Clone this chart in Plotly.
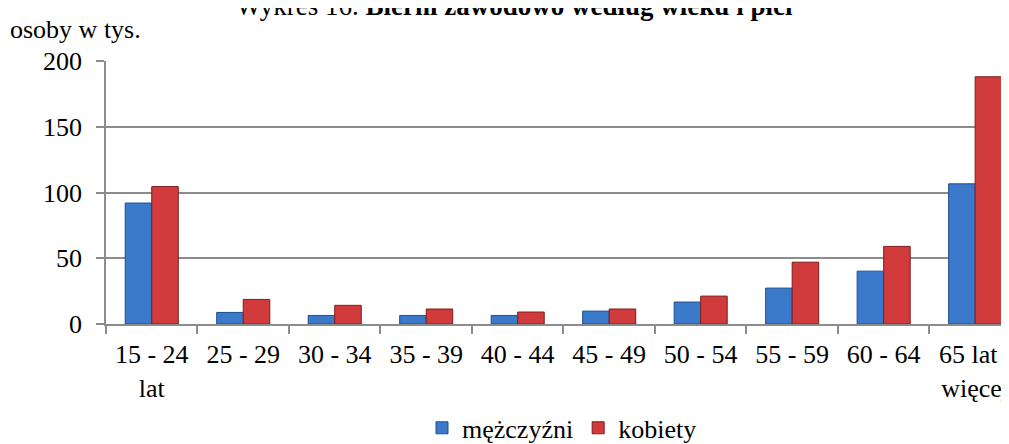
import plotly.graph_objects as go

categories = ["15 - 24<br>lat", "25 - 29", "30 - 34", "35 - 39", "40 - 44",
              "45 - 49", "50 - 54", "55 - 59", "60 - 64", "65 lat i<br>więcej"]
men = [92, 8.8, 6.5, 6.5, 6.5, 9.8, 16.7, 27.3, 40.2, 106.6]
women = [104.5, 18.7, 14.2, 11.4, 9.1, 11.4, 21.2, 47, 59, 188]
y_ticks = [0, 50, 100, 150, 200]

FONT = "Liberation Serif"
GRID = "#8c8c8c"

fig = go.Figure()
fig.add_trace(go.Bar(name="mężczyźni", x=categories, y=men,
                     marker=dict(color="#3b7acb", line=dict(color="#1d4f8f", width=1))))
fig.add_trace(go.Bar(name="kobiety", x=categories, y=women,
                     marker=dict(color="#d23b3b", line=dict(color="#7f1c1c", width=1))))

fig.update_layout(
    width=1001, height=436,
    margin=dict(l=98, r=0, t=53, b=120, pad=0, autoexpand=False),
    paper_bgcolor="white", plot_bgcolor="white",
    font=dict(family=FONT, size=26, color="black"),
    barmode="group", bargap=0.42, bargroupgap=0,
    showlegend=True,
    legend=dict(orientation="h", x=0.505, xanchor="center", y=-0.395, yanchor="middle",
                font=dict(size=26), itemwidth=30, traceorder="normal"),
    xaxis=dict(type="category", range=[-0.5, 9.37], tickson="boundaries",
               ticks="outside", ticklen=8, tickcolor=GRID, tickwidth=1.5,
               showline=True, linecolor=GRID, linewidth=1.5, showgrid=False,
               tickangle=0, ticklabelstandoff=6, automargin=False),
    yaxis=dict(range=[0, 200], tickvals=y_ticks, ticks="outside", ticklen=8,
               tickcolor=GRID, tickwidth=1.5, showline=True, linecolor=GRID,
               linewidth=1.5, showgrid=True, gridcolor=GRID, gridwidth=1.5,
               zeroline=False, ticklabelstandoff=9, automargin=False),
    annotations=[
        dict(text="Wykres 16. <b>Bierni zawodowo według wieku i płci</b>",
             xref="paper", yref="paper", x=0.452, y=1 + 55 / 263, xanchor="center",
             yanchor="middle", showarrow=False, font=dict(size=27)),
        dict(text="osoby w tys.", xref="paper", yref="paper",
             x=(8 - 106) / 903, y=1 + (61 - 30) / 263, xanchor="left", yanchor="middle",
             showarrow=False, font=dict(size=26)),
    ],
)

fig.write_html("out.html")
